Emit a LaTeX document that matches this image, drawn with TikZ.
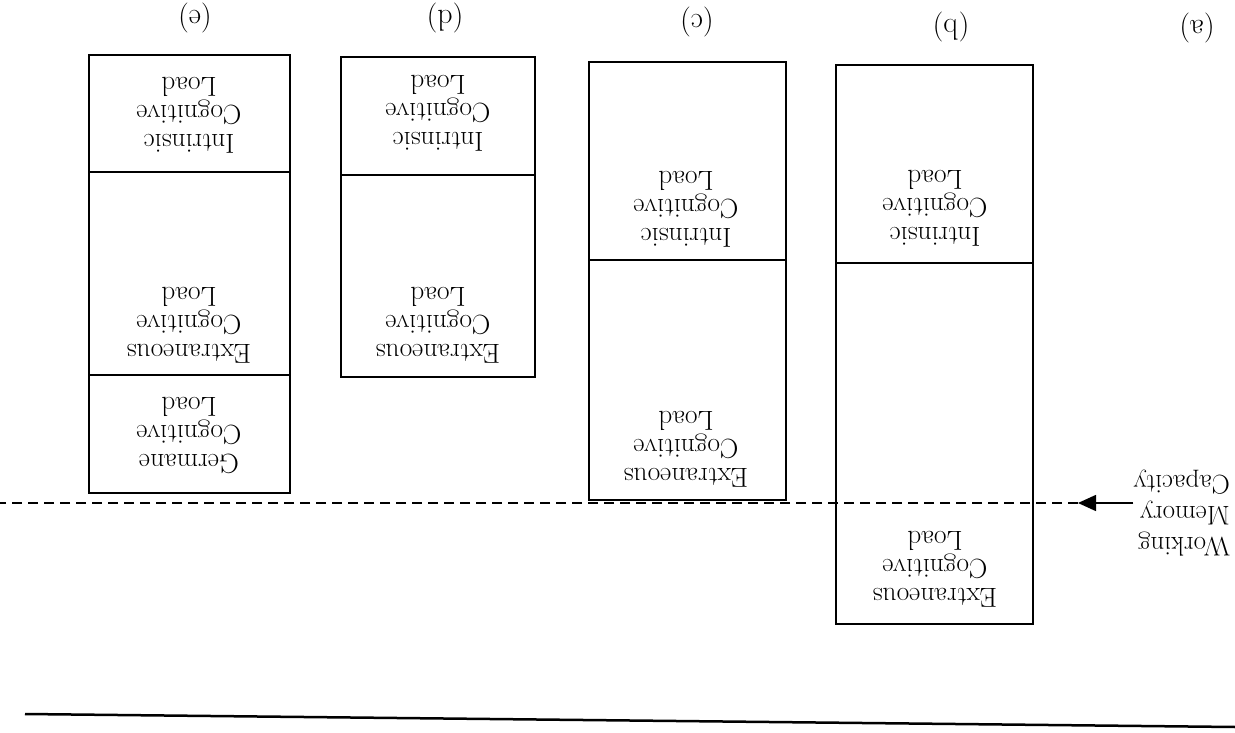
\documentclass[tikz,border=0pt]{standalone}
\usepackage{fontspec}
\usepackage{tikz}
\usetikzlibrary{arrows.meta, positioning}

\begin{document}
\begin{tikzpicture}[x=1pt, y=-1pt,
  bar/.style={draw=black, line width=1.6pt},
  lbl/.style={rotate=180, align=center, inner sep=0pt,
              font=\fontsize{27.5}{28.5}\selectfont},
  tag/.style={rotate=180, inner sep=0pt, font=\fontsize{30}{32}\selectfont},
  wmline/.style={dash pattern=on 10pt off 6pt, line width=1.5pt}
]
\useasboundingbox (0,0) rectangle (1235,733);

% Bar outlines (left, right, top, dividers, bottom)
\draw[bar] (89,55) rectangle (290,493);
\draw[bar] (89,172) -- (290,172);
\draw[bar] (89,375) -- (290,375);
\draw[bar] (341,57) rectangle (535,377);
\draw[bar] (341,175) -- (535,175);
\draw[bar] (589,62) rectangle (786,500);
\draw[bar] (589,260) -- (786,260);
\draw[bar] (836,65) rectangle (1033,624);
\draw[bar] (836,263) -- (1033,263);

% Column tags
\foreach \x/\y/\t in {195/18/e, 445/18/d, 697/22/c, 951/27/b, 1197/28/a}{
  \node[tag] (tag-\t) at (\x,\y) {(\t)};
}

% Load labels inside the bars
\node[lbl] (e-intr) at (189,115) {Intrinsic\\Cognitive\\Load};
\node[lbl] (e-extr) at (189,325) {Extraneous\\Cognitive\\Load};
\node[lbl] (e-germ) at (189,435) {Germane\\Cognitive\\Load};
\node[lbl] (d-intr) at (438,113) {Intrinsic\\Cognitive\\Load};
\node[lbl] (d-extr) at (438,325) {Extraneous\\Cognitive\\Load};
\node[lbl] (c-intr) at (686,209) {Intrinsic\\Cognitive\\Load};
\node[lbl] (c-extr) at (686,449) {Extraneous\\Cognitive\\Load};
\node[lbl] (b-intr) at (935,208) {Intrinsic\\Cognitive\\Load};
\node[lbl] (b-extr) at (935,569) {Extraneous\\Cognitive\\Load};

% Capacity line
\node[lbl, align=left, anchor=west, font=\fontsize{27}{31}\selectfont]
  (wmc) at (1230,513) {Working\\Memory\\Capacity};
\coordinate (tip) at (1078,503);
\coordinate (lend) at (0,503);
\draw[-{Triangle[length=18pt,width=16pt]}, line width=1.5pt]
  (wmc.east |- tip) -- (tip);
\draw[wmline] (tip) -- (lend);

% Base rule
\draw[line width=2.5pt] (25,714) -- (1235,727);
\end{tikzpicture}
\end{document}
